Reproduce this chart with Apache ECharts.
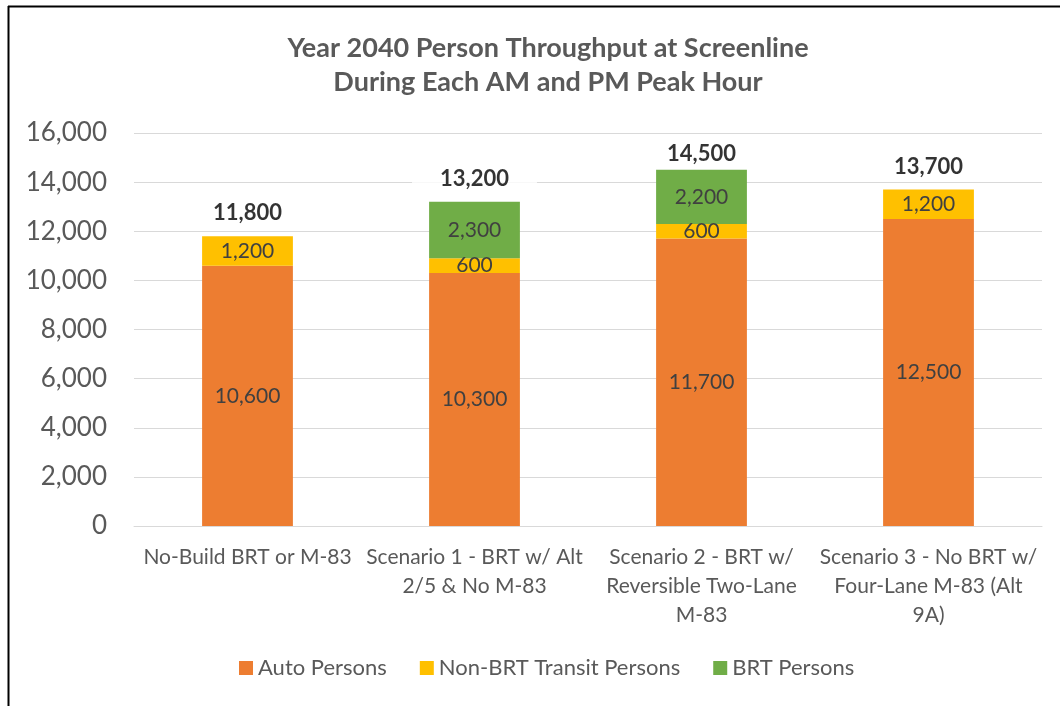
<!DOCTYPE html>
<html>
<head>
<meta charset="utf-8">
<script src="https://cdn.jsdelivr.net/npm/echarts@6/dist/echarts.min.js"></script>
<style>
  html, body { margin: 0; padding: 0; background: #fff; }
  #main { width: 1060px; height: 706px; }
</style>
</head>
<body>
<div id="main"></div>
<script>
// categories along the x axis
const scenarios = [
  'No-Build BRT or M-83',
  'Scenario 1 - BRT w/ Alt\n2/5 & No M-83',
  'Scenario 2 - BRT w/\nReversible Two-Lane\nM-83',
  'Scenario 3 - No BRT w/\nFour-Lane M-83 (Alt\n9A)'
]
// stacked values
const autoPersons = [10600, 10300, 11700, 12500]
const transitPersons = [1200, 600, 600, 1200]
const brtPersons = [null, 2300, 2200, null]
// totals printed above each stack
const totals = [11800, 13200, 14500, 13700]

const FONT = 'Lato, "Open Sans", sans-serif'
const fmt = v => Number(v).toLocaleString('en-US')

const chart = echarts.init(document.getElementById('main'))

const stackLabel = {
  show: true,
  position: 'inside',
  color: '#404040',
  fontSize: 21,
  fontFamily: FONT,
  formatter: p => fmt(p.value)
}

chart.setOption({
  animation: false,
  textStyle: { fontFamily: FONT },
  title: {
    text: 'Year 2040 Person Throughput at Screenline\nDuring Each AM and PM Peak Hour',
    left: 543,
    textAlign: 'center',
    top: 26,
    textStyle: {
      fontSize: 27,
      fontWeight: 'bold',
      color: '#595959',
      lineHeight: 34,
      fontFamily: FONT
    }
  },
  graphic: [
    { type: 'line', shape: { x1: 8, y1: 6.5, x2: 1060, y2: 6.5 }, style: { stroke: '#000', lineWidth: 2 } },
    { type: 'line', shape: { x1: 8.5, y1: 6, x2: 8.5, y2: 706 }, style: { stroke: '#000', lineWidth: 2 } }
  ],
  legend: {
    data: ['Auto Persons', 'Non-BRT Transit Persons', 'BRT Persons'],
    bottom: 22,
    left: 234,
    icon: 'rect',
    itemWidth: 14,
    itemHeight: 14,
    itemGap: 33,
    textStyle: { fontSize: 22, color: '#595959', fontFamily: FONT }
  },
  grid: {
    left: 134,
    right: 18,
    top: 133,
    bottom: 180,
    containLabel: false
  },
  xAxis: {
    type: 'category',
    data: scenarios,
    axisLine: { lineStyle: { color: '#d9d9d9', width: 1 } },
    axisTick: { show: false },
    axisLabel: {
      color: '#595959',
      fontSize: 21,
      lineHeight: 29,
      margin: 17,
      interval: 0,
      fontFamily: FONT
    }
  },
  yAxis: {
    type: 'value',
    min: 0,
    max: 16000,
    interval: 2000,
    axisLine: { show: false },
    axisTick: { show: false },
    splitLine: { lineStyle: { color: '#d9d9d9', width: 1 } },
    axisLabel: {
      color: '#595959',
      fontSize: 26,
      margin: 27,
      fontFamily: FONT,
      formatter: v => fmt(v)
    }
  },
  series: [
    {
      name: 'Auto Persons',
      type: 'bar',
      stack: 'total',
      barWidth: '40%',
      itemStyle: { color: '#ed7d31' },
      label: stackLabel,
      data: autoPersons
    },
    {
      name: 'Non-BRT Transit Persons',
      type: 'bar',
      stack: 'total',
      itemStyle: { color: '#ffc000' },
      label: stackLabel,
      data: transitPersons
    },
    {
      name: 'BRT Persons',
      type: 'bar',
      stack: 'total',
      itemStyle: { color: '#70ad47' },
      label: stackLabel,
      data: brtPersons
    },
    {
      name: 'Total',
      type: 'scatter',
      symbolSize: 0,
      silent: true,
      z: 10,
      label: {
        show: true,
        position: 'top',
        distance: 10,
        color: '#000',
        fontSize: 22,
        fontWeight: 'bold',
        fontFamily: FONT,
        backgroundColor: '#fff',
        padding: [2, 28],
        formatter: p => fmt(p.value)
      },
      // the tallest stack's label sits closer to the bar, as in the original
      data: totals.map(v => v === Math.max(...totals) ? { value: v, label: { distance: 3 } } : v)
    }
  ]
})
</script>
</body>
</html>
